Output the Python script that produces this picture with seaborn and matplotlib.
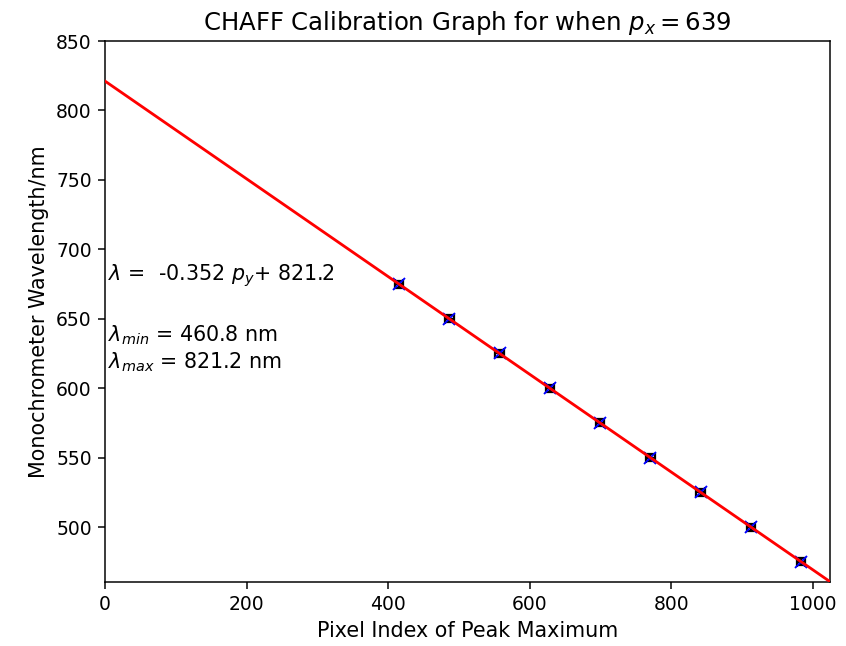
import matplotlib
matplotlib.use("Agg")
import matplotlib.pyplot as plt
import seaborn as sns
import numpy as np
import pandas as pd

wavelengths = [675, 650, 625, 600, 575, 550, 525, 500, 475]
pixels = [415.3, 486.4, 557.4, 628.4, 699.4, 770.5, 841.5, 912.5, 983.5]
slope = -0.352
intercept = 821.2
fit_x = [0, 1024]

df = pd.DataFrame({"pixel": pixels, "wavelength": wavelengths})
fit_df = pd.DataFrame({"x": fit_x, "y": [intercept + slope * x for x in fit_x]})

DPI = 135
fig, ax = plt.subplots(figsize=(846 / DPI, 646 / DPI), dpi=DPI)
fig.subplots_adjust(left=0.124, right=0.981, top=0.9365, bottom=0.0998)

ax.errorbar(df["pixel"], df["wavelength"], xerr=6, yerr=2.5, fmt="x", color="blue",
            ecolor="black", capsize=2.5, markersize=6, elinewidth=1.2, capthick=1.2, zorder=2)
sns.lineplot(data=fit_df, x="x", y="y", color="red", linewidth=1.5, ax=ax, zorder=3)

ax.set_xlim(0, 1024)
ax.set_ylim(460.8, 850)
ax.tick_params(labelsize=10)
ax.set_xlabel("Pixel Index of Peak Maximum", fontsize=11)
ax.set_ylabel("Monochrometer Wavelength/nm", fontsize=11)
ax.set_title("CHAFF Calibration Graph for when $p_x = 639$", fontsize=13)
ax.text(5, 681, r"$\lambda$ =  -0.352 $p_y$+ 821.2", va="center", fontsize=11)
ax.text(5, 610, "$\\lambda_{min}$ = 460.8 nm\n$\\lambda_{max}$ = 821.2 nm", va="bottom", fontsize=11)

fig.savefig("out.png", dpi=DPI)
